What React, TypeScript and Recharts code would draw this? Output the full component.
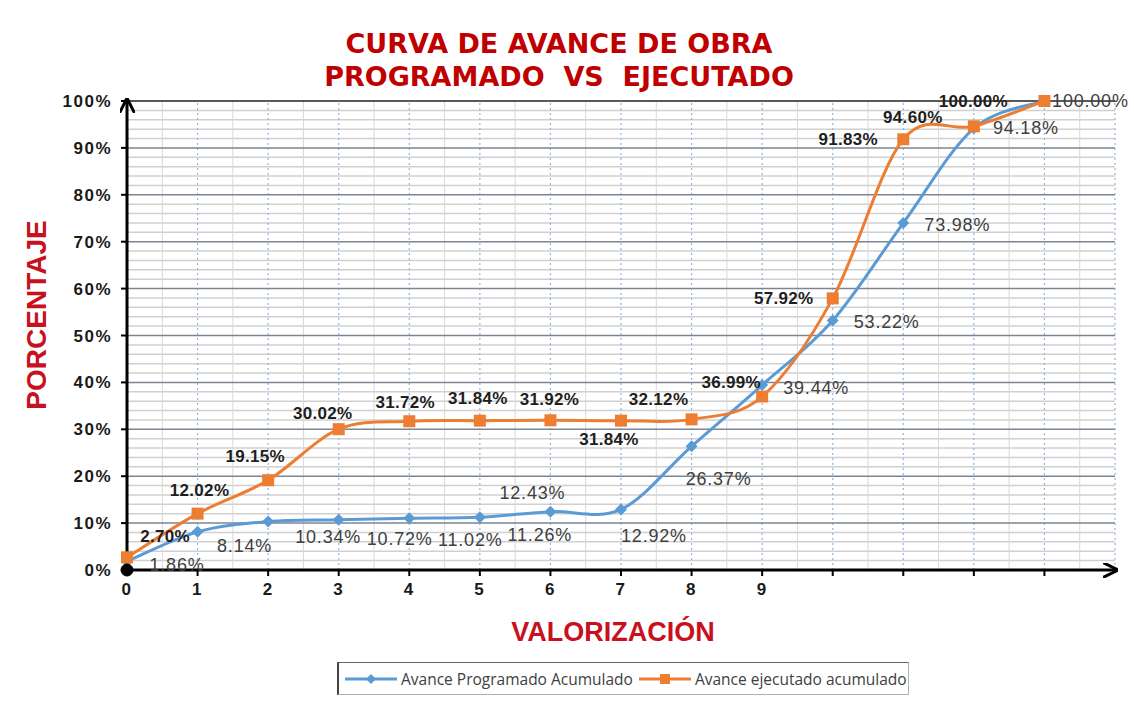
import React from 'react';
import { LineChart, Line, XAxis, YAxis, ReferenceLine, ReferenceDot, LabelList } from 'recharts';

// valorizaciones (eje X)
const valorizaciones = [0, 1, 2, 3, 4, 5, 6, 7, 8, 9, 10, 11, 12, 13];
const programado = [1.86, 8.14, 10.34, 10.72, 11.02, 11.26, 12.43, 12.92, 26.37, 39.44, 53.22, 73.98, 94.18, 100.0];
const ejecutado = [2.7, 12.02, 19.15, 30.02, 31.72, 31.84, 31.92, 31.84, 32.12, 36.99, 57.92, 91.83, 94.6, 100.0];
const yTicks = [0, 10, 20, 30, 40, 50, 60, 70, 80, 90, 100];
const xTickLabels = ['0', '1', '2', '3', '4', '5', '6', '7', '8', '9'];

// label nudges (px), set by hand like the original sheet
const blueLabelNudge = [[50, 4], [47, 14], [60, 15], [61, 19], [61, 22], [60, 18], [-18, -19], [33, 27], [27, 33], [54, 3], [54, 2], [54, 2], [52, 0], [46, 0]];
const orangeLabelNudge = [[38, -21], [2, -23], [-13, -24], [-16, -16], [-4, -19], [-2, -22], [-1, -21], [-12, 19], [-33, -20], [-31, -14], [-49, 0], [-55, 0], [-61, -9], [-71, 0]];

const data = valorizaciones.map((v, i) => ({ valorizacion: v, programado: programado[i], ejecutado: ejecutado[i] }));

const BLUE = '#5b9bd5';
const ORANGE = '#ed7d31';
const RED = '#c8101e';
const ARIAL = "'Liberation Sans', Arial, sans-serif";

const minorY: number[] = [];
for (let v = 2; v < 100; v += 2) if (v % 10 !== 0) minorY.push(v);
const halfX: number[] = [];
for (let v = 0.5; v < 14; v += 1) halfX.push(v);

// Excel-like smoothing (catmull-rom style bezier)
const excelSmooth = (context: any) => {
  let pts: number[][] = [];
  return {
    areaStart() {},
    areaEnd() {},
    lineStart() {
      pts = [];
    },
    point(x: number, y: number) {
      pts.push([+x, +y]);
    },
    lineEnd() {
      if (!pts.length) return;
      context.moveTo(pts[0][0], pts[0][1]);
      const t = 1 / 6;
      for (let i = 0; i < pts.length - 1; i++) {
        const p0 = pts[i - 1] || pts[i];
        const p1 = pts[i];
        const p2 = pts[i + 1];
        const p3 = pts[i + 2] || p2;
        context.bezierCurveTo(
          p1[0] + (p2[0] - p0[0]) * t, p1[1] + (p2[1] - p0[1]) * t,
          p2[0] - (p3[0] - p1[0]) * t, p2[1] - (p3[1] - p1[1]) * t,
          p2[0], p2[1]
        );
      }
    },
  };
};

const Diamond = (props: any) => {
  const { cx, cy, index } = props;
  if (cx == null || cy == null) return null;
  return <path key={`d-${index}`} d={`M${cx},${cy - 6}L${cx + 6},${cy}L${cx},${cy + 6}L${cx - 6},${cy}Z`} fill={BLUE} />;
};

const Square = (props: any) => {
  const { cx, cy, index } = props;
  if (cx == null || cy == null) return null;
  return <rect key={`s-${index}`} x={cx - 6} y={cy - 6} width={12} height={12} fill={ORANGE} />;
};

const makeLabel = (nudge: number[][], bold: boolean) => (props: any) => {
  const { x, y, value, index } = props;
  const [dx, dy] = nudge[index] || [0, 0];
  return (
    <text
      key={`l-${index}`}
      x={x + dx}
      y={y + dy}
      textAnchor="middle"
      dominantBaseline="central"
      fontFamily={ARIAL}
      fontSize={bold ? 17 : 18}
      letterSpacing={bold ? 0.3 : 0.8}
      fontWeight={bold ? 700 : 400}
      fill={bold ? '#1e1e1e' : '#404040'}
    >
      {Number(value).toFixed(2)}%
    </text>
  );
};

const tickStyle = { fill: '#1a1a1a', fontSize: 17, fontWeight: 700, fontFamily: ARIAL, letterSpacing: 1.5 };

export default function App() {
  return (
    <div style={{ position: 'absolute', left: 0, top: 0, width: 1134, height: 725, background: '#fff', overflow: 'hidden' }}>
      <svg width={0} height={0} style={{ position: 'absolute' }}>
        <defs>
          <marker id="arrowHead" viewBox="0 0 10 10" refX="8" refY="5" markerWidth="5" markerHeight="5" orient="auto-start-reverse" markerUnits="strokeWidth">
            <path d="M0,0 L10,5 L0,10" fill="none" stroke="#000" strokeWidth={2} />
          </marker>
        </defs>
      </svg>

      <div style={{ position: 'absolute', left: 0, width: 1118, top: 27, textAlign: 'center', color: '#c00000', fontFamily: "'DejaVu Sans', Verdana, sans-serif", fontWeight: 700, fontSize: 27, lineHeight: '33px', whiteSpace: 'pre' }}>
        {'CURVA DE AVANCE DE OBRA\nPROGRAMADO  VS  EJECUTADO'}
      </div>

      <LineChart width={1134} height={725} data={data} margin={{ top: 101, right: 19, bottom: 125, left: 67 }}>
        {minorY.map((v) => (
          <ReferenceLine key={`my${v}`} y={v} stroke="#d0d0d0" strokeWidth={1.5} />
        ))}
        {halfX.map((v) => (
          <ReferenceLine key={`hx${v}`} x={v} stroke="#d9d9d9" strokeWidth={1} />
        ))}
        {valorizaciones.slice(1).concat([14]).map((v) => (
          <ReferenceLine key={`vx${v}`} x={v} stroke="#8fb6e0" strokeWidth={1.2} strokeDasharray="2 3" />
        ))}
        {yTicks.slice(1, -1).map((v) => (
          <ReferenceLine key={`Y${v}`} y={v} stroke="#7c8591" strokeWidth={1.5} />
        ))}
        <ReferenceLine y={100} stroke="#222" strokeWidth={1.5} />
        <XAxis
          dataKey="valorizacion"
          type="number"
          domain={[0, 14]}
          ticks={valorizaciones}
          tickFormatter={(v: number) => xTickLabels[v] ?? ''}
          allowDecimals={false}
          height={30}
          axisLine={{ stroke: '#000', strokeWidth: 3, markerEnd: 'url(#arrowHead)' }}
          tickLine={{ stroke: '#000', strokeWidth: 2 }}
          tickSize={6}
          tickMargin={7}
          tick={tickStyle}
        />
        <YAxis
          type="number"
          domain={[0, 100]}
          ticks={yTicks}
          tickFormatter={(v: number) => `${v}%`}
          width={60}
          axisLine={{ stroke: '#000', strokeWidth: 3, markerStart: 'url(#arrowHead)' }}
          tickLine={{ stroke: '#000', strokeWidth: 2 }}
          tickSize={6}
          tickMargin={9}
          tick={tickStyle}
        />
        <Line
          dataKey="programado"
          name="Avance Programado Acumulado"
          type={excelSmooth as any}
          stroke={BLUE}
          strokeWidth={3}
          dot={Diamond}
          activeDot={false}
          isAnimationActive={false}
        >
          <LabelList dataKey="programado" content={makeLabel(blueLabelNudge, false)} />
        </Line>
        <Line
          dataKey="ejecutado"
          name="Avance ejecutado acumulado"
          type={excelSmooth as any}
          stroke={ORANGE}
          strokeWidth={3}
          dot={Square}
          activeDot={false}
          isAnimationActive={false}
        >
          <LabelList dataKey="ejecutado" content={makeLabel(orangeLabelNudge, true)} />
        </Line>
        <ReferenceDot x={0} y={0} r={6} fill="#000" stroke="#000" />
      </LineChart>

      <div style={{ position: 'absolute', left: 37, top: 315, transform: 'translate(-50%, -50%) rotate(-90deg)', color: RED, fontFamily: ARIAL, fontWeight: 700, fontSize: 28, whiteSpace: 'nowrap' }}>
        PORCENTAJE
      </div>
      <div style={{ position: 'absolute', left: 613, top: 632, transform: 'translate(-50%, -50%)', color: RED, fontFamily: ARIAL, fontWeight: 700, fontSize: 27, whiteSpace: 'nowrap' }}>
        VALORIZACIÓN
      </div>

      <div style={{ position: 'absolute', left: 337, top: 662, width: 572, height: 33, boxSizing: 'border-box', border: '1px solid #b0b0b0', borderLeft: '2px solid #444', borderTop: '1px solid #666', display: 'flex', alignItems: 'center', fontFamily: "'Open Sans', sans-serif", fontSize: 15.5, color: '#404040', whiteSpace: 'nowrap', overflow: 'hidden' }}>
        <svg width={52} height={14} style={{ marginLeft: 6, marginRight: 4, flex: 'none' }}>
          <line x1={0} y1={7} x2={52} y2={7} stroke={BLUE} strokeWidth={3} />
          <path d="M26,2L31,7L26,12L21,7Z" fill={BLUE} />
        </svg>
        <span>Avance Programado Acumulado</span>
        <svg width={52} height={14} style={{ marginLeft: 6, marginRight: 4, flex: 'none' }}>
          <line x1={0} y1={7} x2={52} y2={7} stroke={ORANGE} strokeWidth={3} />
          <rect x={21} y={2} width={10} height={10} fill={ORANGE} />
        </svg>
        <span>Avance ejecutado acumulado</span>
      </div>
    </div>
  );
}
